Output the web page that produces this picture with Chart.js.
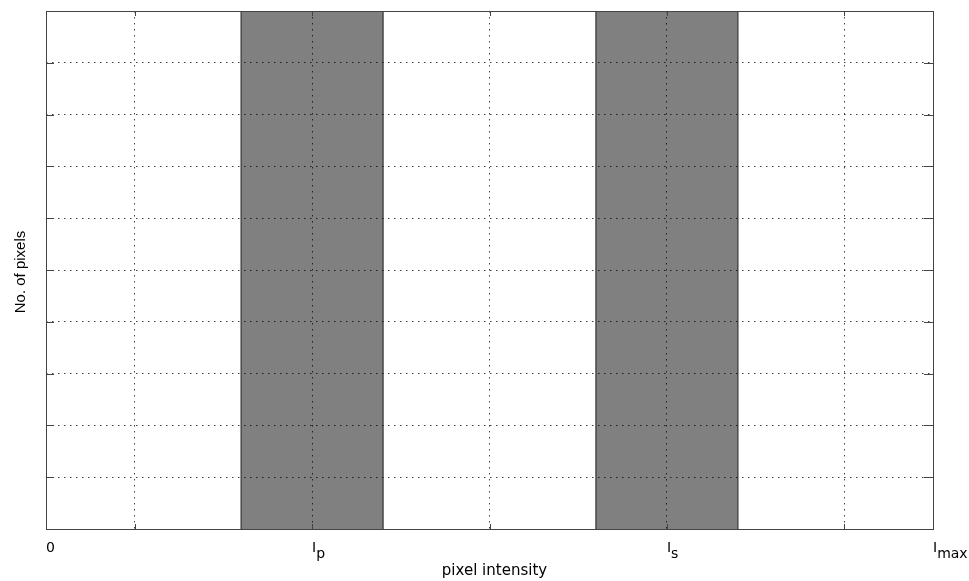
<!DOCTYPE html>
<html>
<head>
<meta charset="utf-8">
<script src="https://cdn.jsdelivr.net/npm/chart.js@4"></script>
<style>
  html, body { margin: 0; padding: 0; background: #fff; }
  #wrap { width: 969px; height: 581px; position: relative; }
</style>
</head>
<body>
<div id="wrap"><canvas id="chart"></canvas></div>
<script>
// Axis ticks (x runs 0..1 as fraction of Imax)
const xTickValues = [0, 0.1, 0.3, 0.5, 0.7, 0.9, 1];
const xTickMain = ['0', '', 'I', '', 'I', '', 'I'];
const xTickSub = ['', '', 'p', '', 's', '', 'max'];
const yTickValues = [0, 1, 2, 3, 4, 5, 6, 7, 8, 9, 10];

// Gray bands (histogram blocks around Ip and Is)
const bandStart = [0.22, 0.62];
const bandEnd = [0.38, 0.78];
const bandCount = [10, 10];

const xTitle = 'pixel intensity';
const yTitle = 'No. of pixels';

const datasets = bandStart.map((s, i) => ({
  type: 'line',
  data: [
    { x: s, y: 0 },
    { x: s, y: bandCount[i] },
    { x: bandEnd[i], y: bandCount[i] },
    { x: bandEnd[i], y: 0 }
  ],
  borderColor: '#3a3a3a',
  borderWidth: 1.3,
  backgroundColor: '#808080',
  fill: 'origin',
  pointRadius: 0,
  tension: 0
}));

// Box, inner ticks, tick labels and axis titles
const frame = {
  id: 'frame',
  afterDraw(chart) {
    const { ctx, chartArea: a, scales } = chart;
    const xs = scales.x, ys = scales.y;
    ctx.save();
    ctx.strokeStyle = '#444';
    ctx.lineWidth = 1;
    // inner ticks
    ctx.beginPath();
    yTickValues.forEach(v => {
      const y = Math.round(ys.getPixelForValue(v)) + 0.5;
      ctx.moveTo(a.left, y); ctx.lineTo(a.left + 8, y);
      ctx.moveTo(a.right, y); ctx.lineTo(a.right - 9, y);
    });
    xTickValues.forEach(v => {
      const x = Math.round(xs.getPixelForValue(v)) + 0.5;
      ctx.moveTo(x, a.top); ctx.lineTo(x, a.top + 5);
      ctx.moveTo(x, a.bottom); ctx.lineTo(x, a.bottom - 5);
    });
    ctx.stroke();
    ctx.strokeRect(Math.round(a.left) + 0.5, Math.round(a.top) + 0.5,
      Math.round(a.right - a.left), Math.round(a.bottom - a.top));

    // x tick labels with subscripts
    ctx.fillStyle = '#000';
    ctx.font = '14px "DejaVu Sans"';
    ctx.textBaseline = 'alphabetic';
    ctx.textAlign = 'left';
    xTickValues.forEach((v, i) => {
      if (!xTickMain[i]) return;
      const x = xs.getPixelForValue(v);
      const base = a.bottom + 23;
      ctx.fillText(xTickMain[i], x, base);
      if (xTickSub[i]) {
        const w = ctx.measureText(xTickMain[i]).width;
        ctx.fillText(xTickSub[i], x + w, base + 6);
      }
    });

    // axis titles
    ctx.font = '15px "DejaVu Sans"';
    ctx.textAlign = 'center';
    ctx.fillText(xTitle, (a.left + a.right) / 2 + 5, a.bottom + 46);
    ctx.save();
    ctx.translate(25, (a.top + a.bottom) / 2 + 2);
    ctx.rotate(-Math.PI / 2);
    ctx.font = '15px "Liberation Sans"';
    ctx.fillText(yTitle, 0, 0);
    ctx.restore();
    ctx.restore();
  }
};

new Chart(document.getElementById('chart'), {
  data: { datasets },
  options: {
    responsive: true,
    maintainAspectRatio: false,
    animation: false,
    layout: { padding: { left: 46, right: 36, top: 11, bottom: 52 } },
    plugins: { legend: { display: false }, tooltip: { enabled: false } },
    scales: {
      x: {
        type: 'linear',
        min: 0,
        max: 1,
        afterBuildTicks: axis => { axis.ticks = xTickValues.map(v => ({ value: v })); },
        ticks: { display: false },
        grid: { color: 'rgba(0,0,0,0.75)', lineWidth: 1, drawTicks: false, z: 1 },
        border: { display: false, dash: [1.5, 4.5] }
      },
      y: {
        type: 'linear',
        min: 0,
        max: 10,
        afterBuildTicks: axis => { axis.ticks = yTickValues.map(v => ({ value: v })); },
        ticks: { display: false },
        grid: { color: 'rgba(0,0,0,0.75)', lineWidth: 1, drawTicks: false, z: 1 },
        border: { display: false, dash: [1.5, 4.5] }
      }
    }
  },
  plugins: [frame]
});
</script>
</body>
</html>
